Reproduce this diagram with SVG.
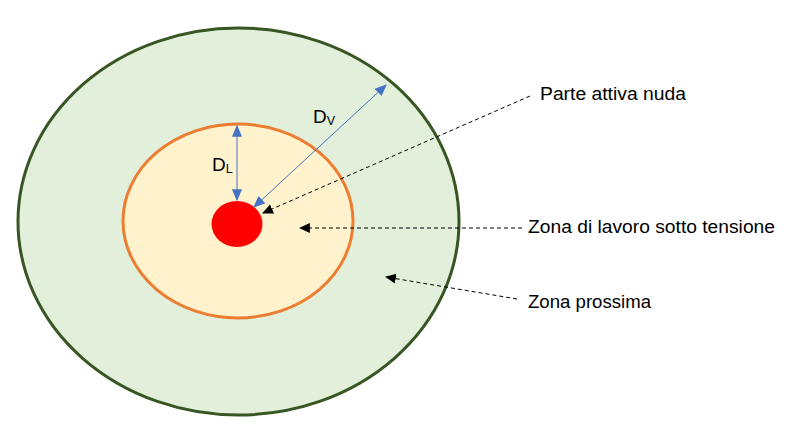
<svg xmlns="http://www.w3.org/2000/svg" width="787" height="428" viewBox="0 0 787 428">
<style>
.lbl{font-family:"Liberation Sans",Arial,sans-serif;font-size:17.5px;fill:#000}
.dim{font-family:"Liberation Sans",Arial,sans-serif;font-size:19px;fill:#000}
.sub{font-size:12.5px}
.lead{stroke:#000;stroke-width:1;stroke-dasharray:4 3;fill:none}
.dimline{stroke:#4472C4;stroke-width:1;fill:none}
</style>
<defs>
<marker id="blueHead" viewBox="0 0 10 10" refX="9" refY="5" markerWidth="12" markerHeight="12" markerUnits="userSpaceOnUse" orient="auto-start-reverse">
<path d="M0,0.8 L10,5 L0,9.2 Z" fill="#4472C4"/>
</marker>
<marker id="blackHead" viewBox="0 0 10 10" refX="9" refY="5" markerWidth="11" markerHeight="11" markerUnits="userSpaceOnUse" orient="auto">
<path d="M0,0.5 L10,5 L0,9.5 Z" fill="#000"/>
</marker>
</defs>
<rect width="787" height="428" fill="#fff"/>
<g id="zona-prossima">
<ellipse cx="238.5" cy="221.5" rx="220.5" ry="193.5" fill="#E2EFDA" stroke="#375623" stroke-width="3"/>
</g>
<g id="zona-lavoro">
<ellipse cx="238" cy="221" rx="115" ry="97" fill="#FFF2CC" stroke="#ED7D31" stroke-width="3"/>
</g>
<g id="parte-attiva">
<ellipse cx="237" cy="224" rx="25.5" ry="23" fill="#FF0000"/>
</g>
<g id="connectors">
<line class="dimline" x1="237" y1="126" x2="237" y2="200" marker-start="url(#blueHead)" marker-end="url(#blueHead)"/>
<line class="dimline" x1="254" y1="207" x2="386" y2="85" marker-start="url(#blueHead)" marker-end="url(#blueHead)"/>
<line class="lead" x1="530" y1="96" x2="263" y2="213" marker-end="url(#blackHead)"/>
<line class="lead" x1="522" y1="228" x2="300" y2="228" marker-end="url(#blackHead)"/>
<line class="lead" x1="517" y1="299" x2="386" y2="277" marker-end="url(#blackHead)"/>
</g>
<g id="label-DL">
<text class="dim" x="212" y="171">D<tspan class="sub" dy="2">L</tspan></text>
</g>
<g id="label-DV">
<text class="dim" x="313" y="123">D<tspan class="sub" dy="2">V</tspan></text>
</g>
<g id="label-parte">
<text class="lbl" x="540" y="100" textLength="146" lengthAdjust="spacingAndGlyphs">Parte attiva nuda</text>
</g>
<g id="label-lavoro">
<text class="lbl" x="528" y="233" textLength="247" lengthAdjust="spacingAndGlyphs">Zona di lavoro sotto tensione</text>
</g>
<g id="label-prossima">
<text class="lbl" x="528" y="308" textLength="123" lengthAdjust="spacingAndGlyphs">Zona prossima</text>
</g>
</svg>
